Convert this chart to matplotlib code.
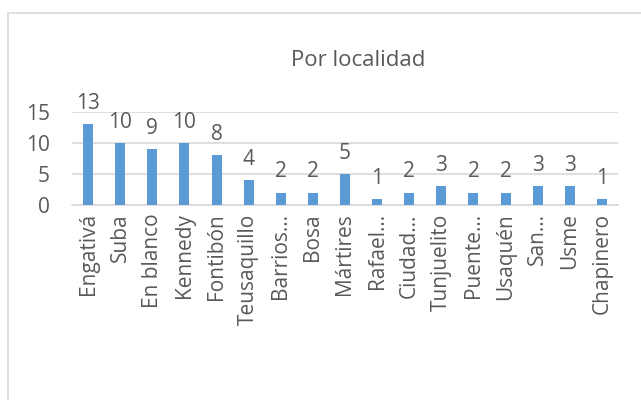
import matplotlib
matplotlib.use('Agg')
import matplotlib.pyplot as plt
from matplotlib.patches import Rectangle

localidades = ['Engativá', 'Suba', 'En blanco', 'Kennedy', 'Fontibón', 'Teusaquillo',
               'Barrios…', 'Bosa', 'Mártires', 'Rafael…', 'Ciudad…', 'Tunjuelito',
               'Puente…', 'Usaquén', 'San…', 'Usme', 'Chapinero']
conteos = [13, 10, 9, 10, 8, 4, 2, 2, 5, 1, 2, 3, 2, 2, 3, 3, 1]
y_ticks = [0, 5, 10, 15]

texto = '#595959'
barra = '#5B9BD5'
plt.rcParams['font.family'] = ['Open Sans', 'DejaVu Sans']

fig = plt.figure(figsize=(6.41, 4.0), dpi=100)
# chart border
fig.patches.append(Rectangle((8 / 641, -0.1), 1.2, (400 - 13) / 400 + 0.1,
                             transform=fig.transFigure, fill=False,
                             edgecolor='#D9D9D9', linewidth=1.2))

ax = fig.add_axes([72 / 641, 1 - 205 / 400, (618 - 72) / 641, (205 - 112) / 400])
x = range(len(localidades))
ax.bar(x, conteos, width=0.31, color=barra, zorder=3)
for xi, v in zip(x, conteos):
    ax.annotate(str(v), (xi, v), xytext=(0, 11), textcoords='offset points',
                ha='center', va='baseline', fontsize=15, color=texto,
                annotation_clip=False)

ax.set_ylim(0, 15)
ax.set_xlim(-0.5, len(localidades) - 0.5)
ax.set_yticks(y_ticks)
ax.set_yticklabels([str(t) for t in y_ticks], fontsize=15, color=texto)
ax.set_xticks(list(x))
ax.set_xticklabels(localidades, rotation=90, fontsize=15, color=texto)
ax.grid(axis='y', color='#D9D9D9', linewidth=1.2, zorder=0)
ax.tick_params(axis='y', length=0, pad=16)
ax.tick_params(axis='x', length=0, pad=6)
for s in ['top', 'right', 'left']:
    ax.spines[s].set_visible(False)
ax.spines['bottom'].set_color('#D9D9D9')
ax.spines['bottom'].set_linewidth(1.2)

fig.text(358 / 641, 1 - 60 / 400, 'Por localidad', ha='center', va='center',
         fontsize=16, color=texto)

fig.savefig('out.png', dpi=100)
